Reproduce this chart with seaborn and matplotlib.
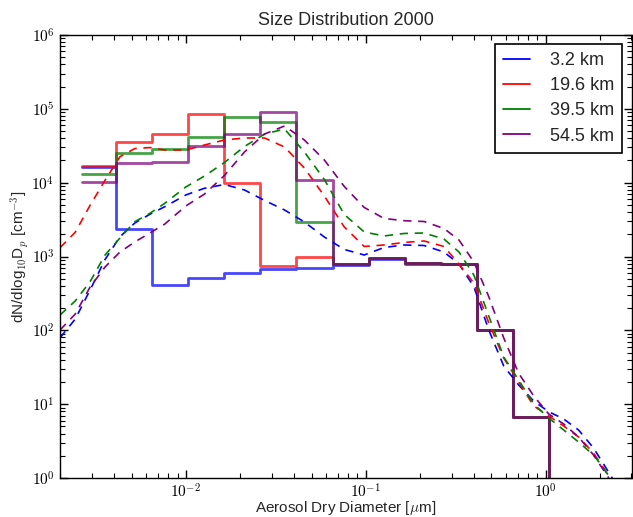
import numpy as np
import pandas as pd
import matplotlib
matplotlib.use("Agg")
import matplotlib.pyplot as plt
import seaborn as sns
from matplotlib.ticker import FuncFormatter, NullFormatter, LogLocator

# ---------------- data ----------------
altitudes = ["3.2 km", "19.6 km", "39.5 km", "54.5 km"]
colors = ["#0000ff", "#ff0000", "#008000", "#800080"]

# measured size-bin edges [um]
bin_edges = [0.00265, 0.00407, 0.00651, 0.0103, 0.0164, 0.0260, 0.0411,
             0.0655, 0.1046, 0.1655, 0.263, 0.418, 0.662, 1.05]

# binned dN/dlogDp per bin [cm^-3]
bins_3_2 = [16100, 2360, 408, 515, 590, 675, 693, 760, 930, 800, 780, 101, 6.8]
bins_19_6 = [17000, 35400, 46000, 84400, 10000, 740, 977, 800, 960, 810, 780, 101, 6.8]
bins_39_5 = [13100, 25300, 28600, 41300, 78000, 65800, 2960, 780, 950, 805, 780, 101, 6.8]
bins_54_5 = [10300, 18600, 19000, 31200, 45400, 90500, 10800, 800, 950, 810, 785, 101, 6.8]

# fitted size distributions (dashed)
fit_diam = [0.00200, 0.00243, 0.00294, 0.00356, 0.00431, 0.00521, 0.00632,
            0.00765, 0.0100, 0.0127, 0.0164, 0.0212, 0.0274, 0.0354, 0.0456,
            0.0589, 0.0760, 0.0981, 0.1265, 0.1633, 0.2108, 0.2721, 0.3297,
            0.3990, 0.4831, 0.5848, 0.7080, 0.8590, 1.040, 1.259, 1.524,
            1.845, 2.096, 2.382]
fit_3_2 = [79, 142, 352, 911, 1855, 2843, 3734, 4731, 6810, 8395, 9445, 7960,
           5740, 4265, 2933, 1837, 1245, 1048, 1325, 1432, 1410, 1151, 792,
           390, 101, 32.9, 18.2, 11.0, 7.91, 6.30, 4.47, 2.55, 1.55, 0.94]
fit_19_6 = [1316, 2128, 4940, 10770, 22480, 28970, 29880, 27710, 27710, 32370,
            37850, 40280, 40280, 30400, 15800, 6600, 2510, 1367, 1432, 1549,
            1623, 1367, 792, 438, 126, 42.2, 20.0, 9.44, 6.92, 5.06, 3.59,
            2.18, 1.37, 0.83]
fit_39_5 = [161, 250, 456, 1048, 1782, 2960, 3846, 5260, 8740, 12300, 18750,
            30900, 45600, 53300, 26050, 11040, 3707, 2148, 1897, 2051, 2081,
            1727, 1151, 562, 156, 43.5, 21.2, 10.05, 6.50, 4.47, 3.07, 2.05,
            1.37, 0.85]
fit_54_5 = [101, 166, 386, 721, 1151, 1574, 2081, 2755, 4830, 7000, 12500,
            26050, 45600, 58600, 37850, 20280, 8880, 4615, 3273, 3055, 2978,
            2394, 1675, 843, 286, 78.8, 26.2, 12.9, 7.36, 5.39, 3.59, 2.05,
            1.28, 0.80]

# ---------------- tables ----------------
step_rows = []
for alt, vals in zip(altitudes, [bins_3_2, bins_19_6, bins_39_5, bins_54_5]):
    ys = list(vals) + [1e-3]          # final drop after the last bin
    for d, n in zip(bin_edges, ys):
        step_rows.append((alt, d, n))
steps = pd.DataFrame(step_rows, columns=["alt", "D", "N"])

fit_rows = []
for alt, vals in zip(altitudes, [fit_3_2, fit_19_6, fit_39_5, fit_54_5]):
    for d, n in zip(fit_diam, vals):
        fit_rows.append((alt, d, n))
fits = pd.DataFrame(fit_rows, columns=["alt", "D", "N"])

# ---------------- style ----------------
sns.set_theme(style="ticks")
plt.rcParams["font.family"] = ["Liberation Sans", "DejaVu Sans"]
plt.rcParams["mathtext.fontset"] = "cm"
plt.rcParams["axes.linewidth"] = 1.0
plt.rcParams["axes.edgecolor"] = "black"

fig = plt.figure(figsize=(6.33, 5.17), dpi=100)
ax = fig.add_axes([60 / 633, 1 - 478 / 517, 571.5 / 633, 443 / 517])
ax.set_xscale("log")
ax.set_yscale("log")

sns.lineplot(data=steps, x="D", y="N", hue="alt", hue_order=altitudes,
             palette=colors, estimator=None, sort=False,
             drawstyle="steps-post", lw=2.0, alpha=0.72, ax=ax)
sns.lineplot(data=fits, x="D", y="N", hue="alt", hue_order=altitudes,
             palette=colors, estimator=None, sort=False,
             linestyle=(0, (5, 4)), lw=1.2, legend=False, ax=ax)

ax.set_xlim(0.002, 3.0)
ax.set_ylim(1, 1e6)

fmt = FuncFormatter(lambda v, p: r"$10^{%d}$" % int(round(np.log10(v))))
for axis in (ax.xaxis, ax.yaxis):
    axis.set_major_locator(LogLocator(base=10))
    axis.set_minor_locator(LogLocator(base=10, subs=np.arange(2, 10)))
    axis.set_major_formatter(fmt)
    axis.set_minor_formatter(NullFormatter())
ax.tick_params(which="both", direction="in", top=True, right=True,
               colors="black", labelsize=11)
ax.tick_params(which="major", length=6, width=1.0)
ax.tick_params(which="minor", length=3.5, width=0.8)
ax.tick_params(axis="x", which="major", pad=3)
ax.tick_params(axis="y", which="major", pad=4)

ax.set_title("Size Distribution 2000", fontsize=13, pad=7)
ax.set_xlabel(r"Aerosol Dry Diameter [$\mu$m]", fontsize=11, labelpad=-1)
ax.set_ylabel(r"dN/dlog$_{10}$D$_p$ [cm$^{-3}$]", fontsize=11, labelpad=0)

old = ax.get_legend()
handles = list(old.legend_handles)
labels = [t.get_text() for t in old.texts]
old.remove()
pairs = [(h, l) for h, l in zip(handles, labels) if l in altitudes]
leg = ax.legend([p[0] for p in pairs], [p[1] for p in pairs],
                loc="upper right", fontsize=13, frameon=True, fancybox=False,
                framealpha=1.0, edgecolor="black", handlelength=1.5,
                handletextpad=1.1, borderpad=0.45, borderaxespad=0.5,
                labelspacing=0.45)
leg.get_frame().set_linewidth(1.2)
for h in leg.legend_handles:
    h.set_linewidth(1.3)
    h.set_alpha(1.0)

fig.savefig("out.png", dpi=100)
